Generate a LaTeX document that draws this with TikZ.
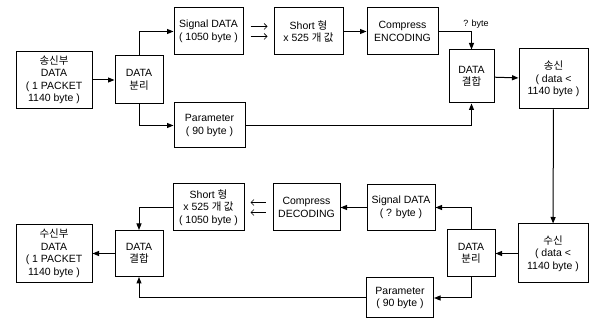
\documentclass[tikz,border=0pt]{standalone}
\usepackage{fontspec}
\setmainfont{Liberation Sans}
\newfontfamily\kr{Noto Sans CJK KR}
\usetikzlibrary{arrows.meta, positioning}
\tikzset{
  every picture/.style={line width=1pt},
  blk/.style={draw, align=center, inner sep=2pt, font=\fontsize{10.5}{12.5}\selectfont},
  arr/.style={-{Triangle[length=6.5pt, width=5pt]}},
  thinarr/.style={-{Straight Barb[length=3pt]}, line width=0.7pt, shorten <=7pt, shorten >=6pt},
  note/.style={font=\fontsize{9}{10}\selectfont},
}

\begin{document}
\begin{tikzpicture}[x=1pt, y=-1pt]
  \useasboundingbox (0,0) rectangle (592,320);
  % sending side
  \node[blk, minimum width=76pt, minimum height=57pt] (src) at (54,80) {{\kr 송신부}\\DATA\\( 1 PACKET\\1140 byte )};
  \node[blk, minimum width=48pt, minimum height=48pt] (split1) at (139,80) {DATA\\{\kr 분리}};
  \node[blk, minimum width=69pt, minimum height=47pt] (sig1) at (208.5,31.5) {Signal DATA\\( 1050 byte )};
  \node[blk, minimum width=71pt, minimum height=45pt] (par1) at (209.5,125.5) {Parameter\\( 90 byte )};
  \node[blk, minimum width=69pt, minimum height=47pt] (short1) at (308.5,31.5) {Short {\kr 형}\\x 525 {\kr 개 값}};
  \node[blk, minimum width=71pt, minimum height=47pt] (enc) at (402.5,31.5) {Compress\\ENCODING};
  \node[blk, minimum width=45pt, minimum height=53pt] (merge1) at (471.5,76.5) {DATA\\{\kr 결합}};
  \node[blk, minimum width=69pt, minimum height=60pt] (tx) at (553.5,79) {{\kr 송신}\\( data <\\1140 byte )};
  \node[note] (qbyte) at (476,24) {? byte};
  \draw[arr] (src) -- (split1);
  \draw[arr] (split1.north) |- (sig1.west);
  \draw[arr] (split1.south) |- (par1.west);
  \draw[thinarr] ([yshift=5pt]sig1.east) -- ([yshift=5pt]short1.west);
  \draw[thinarr] ([yshift=-5pt]sig1.east) -- ([yshift=-5pt]short1.west);
  \draw[arr] (short1) -- (enc);
  \draw[arr] (enc.east) -| (merge1.north);
  \draw[arr] (par1.east) -| (merge1.south);
  \draw[arr] (merge1) -- (tx);
  % receiving side
  \node[blk, minimum width=70pt, minimum height=59pt] (rx) at (553,253.5) {{\kr 수신}\\( data <\\1140 byte )};
  \node[blk, minimum width=48pt, minimum height=47pt] (split2) at (471,253.5) {DATA\\{\kr 분리}};
  \node[blk, minimum width=68pt, minimum height=46pt] (sig2) at (401,207.5) {Signal DATA\\( ? byte )};
  \node[blk, minimum width=67pt, minimum height=40pt] (par2) at (400,298) {Parameter\\( 90 byte )};
  \node[blk, minimum width=67pt, minimum height=47pt] (dec) at (306.5,207.5) {Compress\\DECODING};
  \node[blk, minimum width=71pt, minimum height=47pt] (short2) at (208.5,207.5) {Short {\kr 형}\\x 525 {\kr 개 값}\\( 1050 byte )};
  \node[blk, minimum width=48pt, minimum height=46pt] (merge2) at (139,253.5) {DATA\\{\kr 결합}};
  \node[blk, minimum width=76pt, minimum height=58pt] (dst) at (54,253.5) {{\kr 수신부}\\DATA\\( 1 PACKET\\1140 byte )};
  \draw[arr] (tx) -- (rx);
  \draw[arr] (rx) -- (split2);
  \draw[arr] (split2.north) |- (sig2.east);
  \draw[arr] (split2.south) |- (par2.east);
  \draw[arr] (sig2) -- (dec);
  \draw[thinarr] ([yshift=5pt]dec.west) -- ([yshift=5pt]short2.east);
  \draw[thinarr] ([yshift=-5pt]dec.west) -- ([yshift=-5pt]short2.east);
  \draw[arr] (short2.west) -| (merge2.north);
  \draw[arr] (par2.west) -| (merge2.south);
  \draw[arr] (merge2) -- (dst);
\end{tikzpicture}
\end{document}
